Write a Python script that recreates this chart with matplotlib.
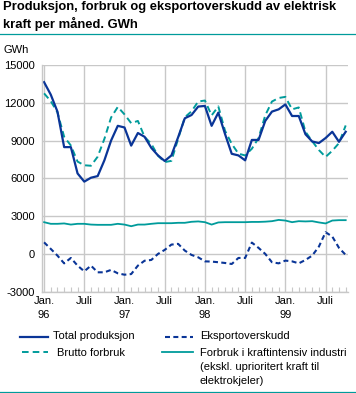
import matplotlib
matplotlib.use("Agg")
import matplotlib.pyplot as plt
from matplotlib.lines import Line2D

plt.rcParams['font.family'] = ['Liberation Sans', 'DejaVu Sans']
plt.rcParams['axes.unicode_minus'] = False

# monthly values Jan 1996 - Oct 1999, GWh
total_produksjon = [13640, 12650, 11300, 8480, 8480, 6390, 5740, 6050, 6180, 7430, 9000, 10170,
                    10040, 8600, 9600, 9300, 8420, 7820, 7380, 7820, 9260, 10770, 11030, 11700,
                    11750, 10170, 11220, 9520, 7950, 7820, 7430, 9050, 9050, 10560, 11300, 11480,
                    11870, 10950, 10950, 9500, 8930, 8800, 9200, 9700, 8900, 9700]
brutto_forbruk = [12750, 12130, 11240, 9300, 8610, 7330, 7040, 7000, 7720, 9130, 10830, 11670,
                  11080, 10380, 10560, 9290, 8740, 7800, 7290, 7390, 9130, 10850, 11320, 12100,
                  12180, 11000, 11710, 9780, 8740, 7960, 7820, 8350, 9200, 11000, 12100, 12380,
                  12470, 11480, 11630, 9700, 8950, 8250, 7700, 8190, 8800, 10200]
eksportoverskudd = [920, 400, -135, -750, -320, -930, -1380, -930, -1460, -1460, -1270, -1540,
                    -1650, -1600, -930, -540, -480, 0, 320, 740, 800, 265, -80, -270,
                    -590, -610, -660, -720, -800, -320, -320, 900, 480, 0, -660, -750,
                    -530, -590, -750, -480, -135, 580, 1720, 1380, 480, -80]
kraftintensiv = [2520, 2390, 2390, 2420, 2330, 2390, 2390, 2330, 2310, 2310, 2310, 2390,
                 2330, 2200, 2330, 2330, 2390, 2440, 2440, 2440, 2470, 2470, 2550, 2580,
                 2520, 2330, 2500, 2520, 2520, 2520, 2520, 2540, 2540, 2560, 2600, 2700,
                 2650, 2520, 2600, 2580, 2600, 2500, 2420, 2650, 2680, 2680]

x_ticks = [0, 6, 12, 18, 24, 30, 36, 42]
x_labels = ["Jan.\n96", "Juli", "Jan.\n97", "Juli", "Jan.\n98", "Juli", "Jan.\n99", "Juli"]
y_ticks = [15000, 12000, 9000, 6000, 3000, 0, -3000]
y_labels = ["15000", "12000", "9000", "6000", "3000", "0", "-3000"]

blue = '#0a3597'
teal = '#009b9b'
grid = '#c8c8c8'
fs = 8

W, H = 356, 393
fig = plt.figure(figsize=(W / 100, H / 100), dpi=100)
ax = fig.add_axes([41.7 / W, 1 - 291.7 / H, 306 / W, 226.7 / H])

months = list(range(len(total_produksjon)))
ax.plot(months, kraftintensiv, color=teal, lw=1.3)
ax.plot(months, brutto_forbruk, color=teal, lw=1.4, dashes=(3.4, 2.1))
ax.plot(months, eksportoverskudd, color=blue, lw=1.5, dashes=(2.4, 1.6))
ax.plot(months, total_produksjon, color=blue, lw=1.6)

ax.set_xlim(-0.35, 45.3)
ax.set_ylim(-3000, 15000)
ax.set_yticks(y_ticks)
ax.set_yticklabels(y_labels)
ax.set_xticks(x_ticks)
ax.set_xticklabels(x_labels, linespacing=1.55)
ax.set_xticks(months, minor=True)
ax.grid(True, color=grid, lw=1.0)
ax.set_axisbelow(True)
for s in ['top', 'right']:
    ax.spines[s].set_visible(False)
for s in ['left', 'bottom']:
    ax.spines[s].set_color(grid)
    ax.spines[s].set_linewidth(1.0)
ax.tick_params(axis='y', length=0, pad=5, labelsize=fs)
ax.tick_params(axis='x', which='major', length=0, pad=3, labelsize=fs)
ax.tick_params(axis='x', which='minor', direction='in', length=3.5, color=grid, width=0.8)

# title and rules
fig.text(3 / W, 1 - 1 / H, "Produksjon, forbruk og eksportoverskudd av elektrisk\nkraft per måned. GWh",
         fontsize=9.4, fontweight='bold', va='top', ha='left', linespacing=1.35)
fig.add_artist(Line2D([0, 1], [1 - 34 / H, 1 - 34 / H], color=teal, lw=0.9))
fig.add_artist(Line2D([0, 1], [1 - 391.5 / H, 1 - 391.5 / H], color=teal, lw=0.9))
fig.text(3 / W, 1 - 50 / H, "GWh", fontsize=fs, va='center', ha='left')

# legend
def leg(x0, x1, y, **kw):
    fig.add_artist(Line2D([x0 / W, x1 / W], [1 - y / H, 1 - y / H], **kw))

leg(20, 48, 337, color=blue, lw=1.6)
fig.text(53 / W, 1 - 336 / H, "Total produksjon", fontsize=fs, va='center')
leg(22, 48, 352, color=teal, lw=1.4, dashes=(3.4, 2.1))
fig.text(57 / W, 1 - 353 / H, "Brutto forbruk", fontsize=fs, va='center')
leg(165, 193, 337, color=blue, lw=1.5, dashes=(2.4, 1.6))
fig.text(200 / W, 1 - 336 / H, "Eksportoverskudd", fontsize=fs, va='center')
leg(162, 193, 352, color=teal, lw=1.3)
fig.text(200 / W, 1 - 347.5 / H, "Forbruk i kraftintensiv industri\n(ekskl. uprioritert kraft til\nelektrokjeler)",
         fontsize=fs, va='top', linespacing=1.5)

fig.savefig("out.png", dpi=100)
